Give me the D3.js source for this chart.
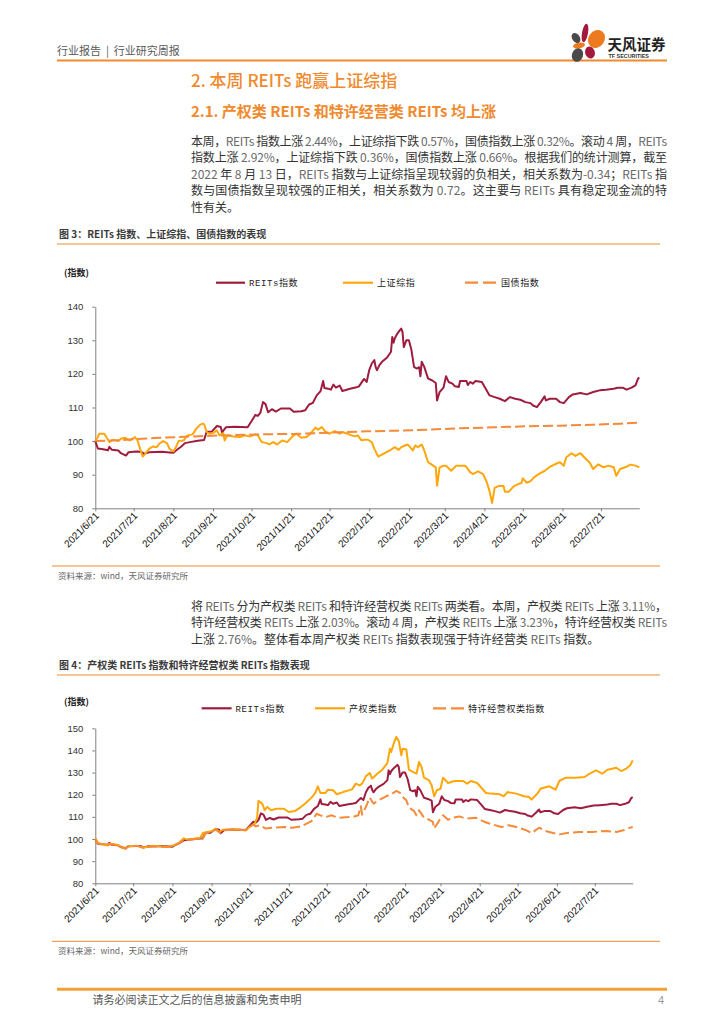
<!DOCTYPE html>
<html>
<head>
<meta charset="utf-8">
<script src="https://cdn.jsdelivr.net/npm/d3@7"></script>
<style>
  body { margin: 0; background: #fff; }
  svg { display: block; }
</style>
</head>
<body>
<svg id="page" width="724" height="1024"></svg>
<script>
// ---- data ----
const xDomain = ["2021-06-21", "2022-08-20"];
const xTickDates = ["2021-06-21", "2021-07-21", "2021-08-21", "2021-09-21", "2021-10-21", "2021-11-21",
  "2021-12-21", "2022-01-21", "2022-02-21", "2022-03-21", "2022-04-21", "2022-05-21", "2022-06-21", "2022-07-21"];
const yTicksFig3 = [80, 90, 100, 110, 120, 130, 140];
const yTicksFig4 = [80, 90, 100, 110, 120, 130, 140, 150];

// REITs指数
const reitsIndex = [
  ["2021-06-21",100.0],["2021-06-23",97.8],["2021-06-27",97.6],["2021-07-01",97.3],["2021-07-02",98.3],
  ["2021-07-04",97.4],["2021-07-09",97.2],["2021-07-11",96.4],["2021-07-15",95.7],["2021-07-17",96.7],
  ["2021-07-23",96.9],["2021-07-27",96.8],["2021-07-29",96.2],["2021-08-02",96.7],["2021-08-12",96.8],
  ["2021-08-18",96.6],["2021-08-21",96.5],["2021-08-23",97.2],["2021-08-27",98.3],["2021-08-30",99.4],
  ["2021-09-03",99.7],["2021-09-09",100.1],["2021-09-14",100.3],["2021-09-15",101.6],["2021-09-16",102.8],
  ["2021-09-20",102.8],["2021-09-24",104.5],["2021-09-27",104.2],["2021-09-28",102.6],["2021-10-01",104.1],
  ["2021-10-08",104.3],["2021-10-18",104.1],["2021-10-21",105.9],["2021-10-24",107.8],["2021-10-26",107.5],
  ["2021-10-28",108.5],["2021-10-30",111.6],["2021-11-01",111.0],["2021-11-03",108.6],["2021-11-06",109.5],
  ["2021-11-09",108.8],["2021-11-13",109.7],["2021-11-20",109.7],["2021-11-23",108.7],["2021-11-29",108.9],
  ["2021-12-02",109.2],["2021-12-05",110.9],["2021-12-08",111.4],["2021-12-11",113.6],["2021-12-14",114.9],
  ["2021-12-16",117.9],["2021-12-17",115.8],["2021-12-20",115.6],["2021-12-22",115.3],["2021-12-24",116.8],
  ["2021-12-26",115.9],["2021-12-29",116.5],["2021-12-31",114.9],["2022-01-06",115.6],["2022-01-11",116.0],
  ["2022-01-13",116.3],["2022-01-16",118.0],["2022-01-17",118.5],["2022-01-19",117.6],["2022-01-21",121.1],
  ["2022-01-23",123.1],["2022-01-25",124.1],["2022-01-26",122.1],["2022-01-27",121.1],["2022-01-29",122.6],
  ["2022-01-31",123.6],["2022-02-04",124.9],["2022-02-07",126.6],["2022-02-08",131.0],["2022-02-09",129.3],
  ["2022-02-10",130.6],["2022-02-12",132.0],["2022-02-14",133.0],["2022-02-15",133.5],["2022-02-16",132.5],
  ["2022-02-17",128.0],["2022-02-19",130.0],["2022-02-21",130.0],["2022-02-23",127.1],["2022-02-25",122.1],
  ["2022-02-27",121.6],["2022-03-01",122.0],["2022-03-02",119.3],["2022-03-03",123.6],["2022-03-05",122.1],
  ["2022-03-08",118.6],["2022-03-11",118.1],["2022-03-14",117.3],["2022-03-15",112.1],["2022-03-17",114.6],
  ["2022-03-20",115.9],["2022-03-22",119.3],["2022-03-24",117.6],["2022-03-27",117.1],["2022-03-29",116.3],
  ["2022-04-01",116.1],["2022-04-02",117.9],["2022-04-07",117.9],["2022-04-08",116.7],["2022-04-10",117.6],
  ["2022-04-12",117.1],["2022-04-14",117.9],["2022-04-19",117.6],["2022-04-22",115.6],["2022-04-25",113.6],
  ["2022-04-29",113.1],["2022-05-03",112.6],["2022-05-07",111.9],["2022-05-11",113.1],["2022-05-15",112.6],
  ["2022-05-19",112.3],["2022-05-23",111.6],["2022-05-27",111.3],["2022-05-29",110.6],["2022-06-01",110.1],
  ["2022-06-04",111.6],["2022-06-07",113.3],["2022-06-08",112.1],["2022-06-11",112.6],["2022-06-16",112.6],
  ["2022-06-19",111.6],["2022-06-22",111.3],["2022-06-26",113.1],["2022-06-29",113.9],["2022-07-05",114.3],
  ["2022-07-10",113.9],["2022-07-15",114.6],["2022-07-20",115.1],["2022-07-25",115.3],["2022-07-31",115.6],
  ["2022-08-03",115.9],["2022-08-07",115.9],["2022-08-10",115.3],["2022-08-14",115.9],["2022-08-17",116.6],
  ["2022-08-19",118.6],["2022-08-20",118.9]
];

// 上证综指
const shCompIndex = [
  ["2021-06-21",100.0],["2021-06-23",101.2],["2021-06-24",102.2],["2021-06-28",102.2],["2021-06-30",101.0],
  ["2021-07-02",99.7],["2021-07-05",100.4],["2021-07-09",100.0],["2021-07-11",100.7],["2021-07-14",101.0],
  ["2021-07-18",100.2],["2021-07-22",101.2],["2021-07-24",100.2],["2021-07-26",97.7],["2021-07-28",95.4],
  ["2021-07-30",96.2],["2021-08-02",97.7],["2021-08-05",98.4],["2021-08-08",98.2],["2021-08-10",99.2],
  ["2021-08-13",100.0],["2021-08-16",99.4],["2021-08-18",97.7],["2021-08-21",96.9],["2021-08-23",98.2],
  ["2021-08-25",100.0],["2021-08-29",100.2],["2021-09-01",101.7],["2021-09-05",102.0],["2021-09-08",103.7],
  ["2021-09-11",104.9],["2021-09-13",105.2],["2021-09-14",105.0],["2021-09-16",102.7],["2021-09-18",102.2],
  ["2021-09-21",102.4],["2021-09-24",103.2],["2021-09-26",101.7],["2021-09-29",102.4],["2021-09-30",100.2],
  ["2021-10-02",101.7],["2021-10-07",101.4],["2021-10-12",101.2],["2021-10-16",101.7],["2021-10-20",101.4],
  ["2021-10-24",102.0],["2021-10-26",101.7],["2021-10-29",99.7],["2021-11-02",99.4],["2021-11-04",99.0],
  ["2021-11-07",99.7],["2021-11-10",99.0],["2021-11-14",100.2],["2021-11-18",99.7],["2021-11-22",101.4],
  ["2021-11-25",102.2],["2021-11-29",101.0],["2021-12-03",101.2],["2021-12-06",102.2],["2021-12-10",104.0],
  ["2021-12-12",103.4],["2021-12-15",104.2],["2021-12-18",102.7],["2021-12-21",102.2],["2021-12-25",103.0],
  ["2021-12-29",102.2],["2021-12-31",102.7],["2022-01-04",102.2],["2022-01-07",101.7],["2022-01-10",101.4],
  ["2022-01-12",101.7],["2022-01-15",100.2],["2022-01-17",100.4],["2022-01-20",100.4],["2022-01-23",99.7],
  ["2022-01-25",97.7],["2022-01-28",95.4],["2022-02-01",96.2],["2022-02-06",97.2],["2022-02-10",98.2],
  ["2022-02-13",97.4],["2022-02-15",98.2],["2022-02-18",98.7],["2022-02-20",99.0],["2022-02-22",98.2],
  ["2022-02-24",97.2],["2022-02-26",98.7],["2022-02-28",98.2],["2022-03-03",99.0],["2022-03-05",97.2],
  ["2022-03-08",93.7],["2022-03-10",93.2],["2022-03-12",92.7],["2022-03-14",92.2],["2022-03-15",86.7],
  ["2022-03-17",92.2],["2022-03-20",92.7],["2022-03-22",92.7],["2022-03-26",91.2],["2022-03-30",92.7],
  ["2022-04-06",92.7],["2022-04-10",90.7],["2022-04-12",90.2],["2022-04-16",91.0],["2022-04-20",90.2],
  ["2022-04-23",87.6],["2022-04-25",85.1],["2022-04-27",81.6],["2022-04-29",86.1],["2022-05-02",86.6],
  ["2022-05-06",86.6],["2022-05-07",84.9],["2022-05-10",84.9],["2022-05-14",86.6],["2022-05-17",87.1],
  ["2022-05-20",87.6],["2022-05-21",88.9],["2022-05-24",87.6],["2022-05-27",88.1],["2022-05-30",89.3],
  ["2022-06-03",90.3],["2022-06-07",91.1],["2022-06-11",92.3],["2022-06-15",93.1],["2022-06-19",93.7],
  ["2022-06-22",92.7],["2022-06-24",95.2],["2022-06-28",96.4],["2022-07-01",95.6],["2022-07-05",96.4],
  ["2022-07-08",95.2],["2022-07-12",93.7],["2022-07-15",91.7],["2022-07-19",93.1],["2022-07-23",92.2],
  ["2022-07-27",92.7],["2022-07-31",92.2],["2022-08-02",89.7],["2022-08-05",91.7],["2022-08-09",92.2],
  ["2022-08-13",93.0],["2022-08-17",92.7],["2022-08-20",92.2]
];

// 国债指数
const bondIndex = [
  ["2021-06-21",100.0],["2021-07-11",100.3],["2021-08-06",100.9],["2021-08-30",101.3],["2021-09-27",101.7],
  ["2021-10-29",102.0],["2021-11-29",102.2],["2021-12-28",102.6],["2022-01-19",102.9],["2022-02-11",103.1],
  ["2022-03-07",103.4],["2022-04-02",103.8],["2022-04-28",104.1],["2022-05-24",104.4],["2022-06-19",104.6],
  ["2022-07-15",104.9],["2022-08-05",105.2],["2022-08-20",105.5]
];

// 产权类指数
const propertyIndex = [
  ["2021-06-21",100.3],["2021-06-23",98.2],["2021-07-01",97.1],["2021-07-02",97.9],["2021-07-06",97.6],
  ["2021-07-09",97.3],["2021-07-14",95.6],["2021-07-17",96.7],["2021-07-24",97.0],["2021-07-28",96.1],
  ["2021-08-06",97.0],["2021-08-17",96.4],["2021-08-23",97.3],["2021-08-26",98.2],["2021-08-30",100.3],
  ["2021-09-02",99.7],["2021-09-12",100.6],["2021-09-14",102.7],["2021-09-22",103.6],["2021-09-24",104.7],
  ["2021-09-27",103.2],["2021-09-30",104.2],["2021-10-10",104.4],["2021-10-18",103.9],["2021-10-21",105.4],
  ["2021-10-25",106.9],["2021-10-27",109.6],["2021-10-28",117.2],["2021-10-31",116.0],["2021-11-02",113.0],
  ["2021-11-04",114.5],["2021-11-07",113.0],["2021-11-11",113.7],["2021-11-17",113.7],["2021-11-21",112.2],
  ["2021-11-26",112.7],["2021-11-30",114.2],["2021-12-04",116.0],["2021-12-09",118.7],["2021-12-12",120.8],
  ["2021-12-14",123.8],["2021-12-16",120.8],["2021-12-20",120.8],["2021-12-22",122.3],["2021-12-26",122.0],
  ["2021-12-29",120.2],["2022-01-03",121.2],["2022-01-10",122.4],["2022-01-13",125.0],["2022-01-16",124.2],
  ["2022-01-18",125.0],["2022-01-21",128.3],["2022-01-24",129.8],["2022-01-26",127.3],["2022-01-30",129.5],
  ["2022-02-03",131.3],["2022-02-07",134.3],["2022-02-09",140.8],["2022-02-10",139.3],["2022-02-12",143.1],
  ["2022-02-14",146.1],["2022-02-16",144.3],["2022-02-18",137.8],["2022-02-19",140.8],["2022-02-22",140.4],
  ["2022-02-24",131.3],["2022-02-27",130.3],["2022-03-02",129.5],["2022-03-04",134.8],["2022-03-06",132.5],
  ["2022-03-08",127.7],["2022-03-12",126.5],["2022-03-14",124.2],["2022-03-16",119.3],["2022-03-18",122.0],
  ["2022-03-21",122.7],["2022-03-23",127.7],["2022-03-27",125.3],["2022-04-01",126.2],["2022-04-08",126.2],
  ["2022-04-11",125.0],["2022-04-14",126.2],["2022-04-19",125.3],["2022-04-23",122.7],["2022-04-26",120.8],
  ["2022-04-30",120.5],["2022-05-07",120.2],["2022-05-10",119.3],["2022-05-13",121.2],["2022-05-20",120.5],
  ["2022-05-26",119.3],["2022-05-30",119.0],["2022-06-01",117.8],["2022-06-06",120.8],["2022-06-08",122.7],
  ["2022-06-15",123.8],["2022-06-20",122.3],["2022-06-23",126.2],["2022-06-28",127.7],["2022-07-06",127.7],
  ["2022-07-13",128.0],["2022-07-17",129.5],["2022-07-22",131.0],["2022-07-27",129.5],["2022-07-31",131.3],
  ["2022-08-07",132.2],["2022-08-11",130.7],["2022-08-15",131.8],["2022-08-18",133.3],["2022-08-20",135.5]
];

// 特许经营权类指数
const concessionIndex = [
  ["2021-06-21",100.0],["2021-06-23",97.9],["2021-07-01",97.4],["2021-07-04",97.6],["2021-07-09",97.0],
  ["2021-07-15",95.9],["2021-07-17",96.8],["2021-07-24",96.8],["2021-07-29",96.3],["2021-08-06",96.6],
  ["2021-08-18",96.5],["2021-08-23",97.1],["2021-08-27",98.4],["2021-08-30",99.6],["2021-09-09",100.0],
  ["2021-09-14",100.2],["2021-09-16",102.4],["2021-09-24",104.2],["2021-09-28",102.8],["2021-10-01",104.0],
  ["2021-10-11",104.2],["2021-10-18",104.0],["2021-10-21",105.7],["2021-10-24",106.6],["2021-10-26",105.7],
  ["2021-10-29",106.2],["2021-11-03",104.7],["2021-11-08",105.1],["2021-11-18",105.4],["2021-11-24",105.1],
  ["2021-12-01",105.7],["2021-12-09",108.1],["2021-12-13",111.4],["2021-12-16",110.7],["2021-12-20",109.9],
  ["2021-12-25",110.7],["2021-12-30",109.6],["2022-01-07",109.9],["2022-01-12",110.2],["2022-01-15",110.7],
  ["2022-01-17",114.8],["2022-01-18",111.0],["2022-01-21",114.5],["2022-01-24",118.7],["2022-01-27",116.0],
  ["2022-02-01",117.8],["2022-02-06",119.3],["2022-02-10",120.2],["2022-02-14",121.7],["2022-02-17",120.8],
  ["2022-02-19",119.0],["2022-02-22",117.5],["2022-02-24",114.2],["2022-02-28",112.7],["2022-03-02",110.7],
  ["2022-03-04",113.0],["2022-03-08",109.6],["2022-03-12",108.7],["2022-03-15",107.7],["2022-03-16",104.7],
  ["2022-03-20",108.4],["2022-03-23",110.7],["2022-03-27",108.7],["2022-03-31",109.6],["2022-04-05",110.2],
  ["2022-04-10",109.2],["2022-04-18",109.6],["2022-04-25",107.7],["2022-05-01",106.6],["2022-05-08",105.4],
  ["2022-05-14",106.2],["2022-05-22",105.1],["2022-05-28",103.9],["2022-06-01",102.7],["2022-06-04",103.9],
  ["2022-06-07",105.1],["2022-06-12",103.6],["2022-06-18",102.7],["2022-06-23",102.1],["2022-06-29",102.7],
  ["2022-07-09",103.2],["2022-07-19",103.2],["2022-07-30",103.6],["2022-08-07",103.2],["2022-08-12",103.8],
  ["2022-08-15",104.7],["2022-08-20",105.4]
];

const para1 = [
  "本周，REITs 指数上涨 2.44%，上证综指下跌 0.57%，国债指数上涨 0.32%。滚动 4 周，REITs",
  "指数上涨 2.92%，上证综指下跌 0.36%，国债指数上涨 0.66%。根据我们的统计测算，截至",
  "2022 年 8 月 13 日，REITs 指数与上证综指呈现较弱的负相关，相关系数为-0.34；REITs 指",
  "数与国债指数呈现较强的正相关，相关系数为 0.72。这主要与 REITs 具有稳定现金流的特",
  "性有关。"
];
const para2 = [
  "将 REITs 分为产权类 REITs 和特许经营权类 REITs 两类看。本周，产权类 REITs 上涨 3.11%，",
  "特许经营权类 REITs 上涨 2.03%。滚动 4 周，产权类 REITs 上涨 3.23%，特许经营权类 REITs",
  "上涨 2.76%。整体看本周产权类 REITs 指数表现强于特许经营类 REITs 指数。"
];

// ---- styling ----
const ORANGE = "#F08A2E";
const RED = "#9E1C3E";
const GOLD = "#FFA60A";
const DASH_ORANGE = "#F58A38";
const CJK = '"Noto Sans CJK SC", sans-serif';
const LATIN = '"Liberation Sans", Arial, sans-serif';
const LEGEND_FONT = '"Liberation Mono", "Noto Sans CJK SC", monospace';

const parseDate = d3.timeParse("%Y-%m-%d");
const fmtTick = d3.timeFormat("%Y/%-m/%-d");

const svg = d3.select("#page");
svg.append("rect").attr("width", 724).attr("height", 1024).attr("fill", "#fff");

function addText(x, y, str, size, opts = {}) {
  return svg.append("text")
    .attr("x", x).attr("y", y)
    .attr("fill", opts.fill || "#333")
    .attr("text-anchor", opts.anchor || "start")
    .style("font-family", opts.family || CJK)
    .style("font-size", size + "px")
    .style("font-weight", opts.weight || "normal")
    .style("white-space", "pre")
    .text(str);
}

function hline(x1, x2, y, w) {
  svg.append("line").attr("x1", x1).attr("x2", x2).attr("y1", y).attr("y2", y)
    .attr("stroke", ORANGE).attr("stroke-width", w);
}

// header
addText(57, 55, "行业报告  |  行业研究周报", 11, { fill: "#595959" });
hline(57, 667, 60.5, 2);

// logo
const logo = svg.append("g");
[
  { cx: 585, cy: 33, rx: 3, ry: 9.5, r: 10, c: "#A3193B" },
  { cx: 596.5, cy: 39, rx: 8, ry: 9.5, r: 35, c: "#EE7A1F" },
  { cx: 576, cy: 38, rx: 3.8, ry: 5.5, r: -35, c: "#4A4A4A" },
  { cx: 579, cy: 45.5, rx: 6, ry: 2.8, r: -10, c: "#EE7A1F" },
  { cx: 590, cy: 52.5, rx: 4.8, ry: 6, r: -20, c: "#A3193B" },
  { cx: 577.5, cy: 55, rx: 5.5, ry: 7, r: 20, c: "#4A4A4A" }
].forEach(e => {
  logo.append("ellipse").attr("cx", e.cx).attr("cy", e.cy).attr("rx", e.rx).attr("ry", e.ry)
    .attr("transform", `rotate(${e.r},${e.cx},${e.cy})`).attr("fill", e.c);
});
addText(607.5, 49.5, "天风证券", 14.5, { weight: "bold", fill: "#222" });
addText(608.5, 58.3, "TF SECURITIES", 5.4, { weight: "bold", fill: "#333", family: LATIN });

// headings
addText(191, 87, "2. 本周 REITs 跑赢上证综指", 17, { fill: ORANGE, weight: 500 });
addText(191, 117, "2.1. 产权类 REITs 和特许经营类 REITs 均上涨", 15, { fill: ORANGE, weight: "bold" });

function drawParagraph(lines, x, y0, lh, width) {
  lines.forEach((line, i) => {
    const t = svg.append("text").attr("x", x).attr("y", y0 + i * lh)
      .style("font-family", CJK).style("font-size", "12px");
    if (i < lines.length - 1) t.attr("textLength", width).attr("lengthAdjust", "spacing");
    line.split(/([A-Za-z0-9.%\-]+)/).forEach((part, k) => {
      if (!part) return;
      t.append("tspan").attr("fill", k % 2 ? "#6a6a6a" : "#333").text(part);
    });
  });
}

drawParagraph(para1, 191, 145.5, 16.5, 476);

function drawChart(cfg) {
  addText(59, cfg.captionY, cfg.caption, 10, { weight: "bold", fill: "#3a3a3a" });
  hline(57, 660, cfg.captionY + 6.5, 1);
  addText(64, cfg.unitY, "(指数)", 9, { weight: "bold", fill: "#222" });

  const x = d3.scaleTime().domain(xDomain.map(parseDate)).range([cfg.left, cfg.right]);
  const y = d3.scaleLinear().domain(cfg.yDomain).range([cfg.bottom, cfg.top]);

  const gx = svg.append("g").attr("transform", `translate(0,${cfg.bottom})`)
    .call(d3.axisBottom(x).tickValues(xTickDates.map(parseDate)).tickFormat(fmtTick)
      .tickSize(3).tickSizeOuter(0));
  gx.select(".domain").attr("stroke", "#808080");
  gx.selectAll(".tick line").attr("stroke", "#808080");
  gx.selectAll(".tick text")
    .attr("transform", "rotate(-45)").attr("text-anchor", "end")
    .attr("x", -3).attr("y", 5).attr("dy", "0.35em")
    .attr("fill", "#111").style("font-family", LATIN).style("font-size", "10px");

  const gy = svg.append("g").attr("transform", `translate(${cfg.left},0)`)
    .call(d3.axisLeft(y).tickValues(cfg.yTicks).tickSize(3).tickSizeOuter(0).tickPadding(9));
  gy.select(".domain").attr("stroke", "#808080");
  gy.selectAll(".tick line").attr("stroke", "#808080");
  gy.selectAll(".tick text").attr("fill", "#333").style("font-family", LATIN).style("font-size", "9.5px");

  const line = d3.line().x(d => x(parseDate(d[0]))).y(d => y(d[1]));

  cfg.series.forEach(s => {
    svg.append("path").datum(s.data)
      .attr("d", line).attr("fill", "none")
      .attr("stroke", s.color).attr("stroke-width", 2)
      .attr("stroke-linejoin", "round")
      .attr("stroke-dasharray", s.dash || null);

    svg.append("line")
      .attr("x1", s.legend[0]).attr("x2", s.legend[1])
      .attr("y1", cfg.legendY).attr("y2", cfg.legendY)
      .attr("stroke", s.color).attr("stroke-width", 2.2)
      .attr("stroke-dasharray", s.dash ? "13,5" : null);
    addText(s.legend[1] + 4, cfg.legendY + 3.5, s.name, 9, { family: LEGEND_FONT, fill: "#222" })
      .style("letter-spacing", "0.6px");
  });

  hline(52, 660, cfg.sourceY, 1);
  addText(58, cfg.sourceY + 13, "资料来源：wind，天风证券研究所", 8.5, { fill: "#666" });
}

drawChart({
  caption: "图 3：REITs 指数、上证综指、国债指数的表现",
  captionY: 237.5, unitY: 275.5, legendY: 282.7,
  left: 95.3, right: 639.3, top: 306.7, bottom: 508.3,
  yDomain: [80, 140], yTicks: yTicksFig3, sourceY: 566,
  series: [
    { name: "REITs指数", data: reitsIndex, color: RED, legend: [216, 245] },
    { name: "上证综指", data: shCompIndex, color: GOLD, legend: [343, 373] },
    { name: "国债指数", data: bondIndex, color: DASH_ORANGE, dash: "10,4", legend: [465, 497] }
  ]
});

drawParagraph(para2, 191, 610.5, 16.8, 476);

drawChart({
  caption: "图 4：产权类 REITs 指数和特许经营权类 REITs 指数表现",
  captionY: 668.5, unitY: 705, legendY: 708.3,
  left: 95.3, right: 632.7, top: 728.3, bottom: 883.3,
  yDomain: [80, 150], yTicks: yTicksFig4, sourceY: 941.3,
  series: [
    { name: "REITs指数", data: reitsIndex, color: RED, legend: [201.6, 231.6] },
    { name: "产权类指数", data: propertyIndex, color: GOLD, legend: [315, 345] },
    { name: "特许经营权类指数", data: concessionIndex, color: DASH_ORANGE, dash: "10,4", legend: [433, 464] }
  ]
});

// footer
svg.append("line").attr("x1", 57).attr("x2", 667).attr("y1", 989.3).attr("y2", 989.3)
  .attr("stroke", "#F2A03A").attr("stroke-width", 3);
addText(92.5, 1004, "请务必阅读正文之后的信息披露和免责申明", 11, { fill: "#555" });
addText(664, 1004, "4", 11, { fill: "#999", anchor: "end", family: LATIN });
</script>
</body>
</html>
